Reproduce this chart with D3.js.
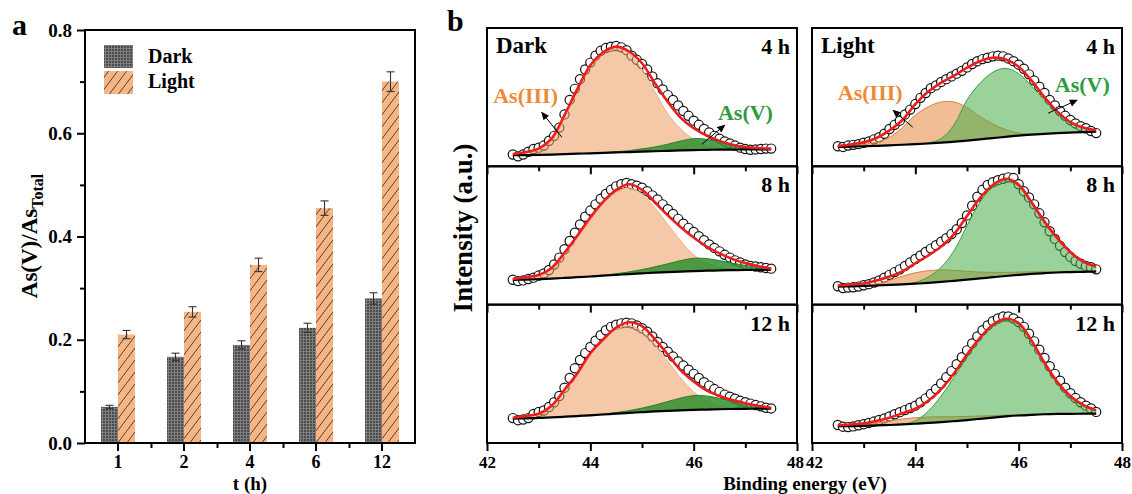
<!doctype html>
<html>
<head>
<meta charset="utf-8">
<script src="https://d3js.org/d3.v7.min.js"></script>
<style>
  body { margin: 0; background: #fff; }
  svg text { font-family: "Liberation Serif", "Times New Roman", serif; font-weight: bold; }
</style>
</head>
<body>
<svg width="1132" height="494"></svg>
<script>
// ---------- panel a : As(V)/As_total ratio ----------
var hours = ["1", "2", "4", "6", "12"];
var darkRatio = [0.070, 0.167, 0.190, 0.223, 0.280];
var darkErr = [0.003, 0.007, 0.008, 0.009, 0.011];
var lightRatio = [0.210, 0.254, 0.345, 0.455, 0.700];
var lightErr = [0.008, 0.010, 0.013, 0.014, 0.019];
var ratioTicks = [0, 0.2, 0.4, 0.6, 0.8];
var ratioMinor = [0.1, 0.3, 0.5, 0.7];

// ---------- panel b : As 3d XPS spectra ----------
var eTicks = [42, 44, 46, 48];
var eMinor = [43, 45, 47];
// grid for fitted components
var energyGrid = [42.5, 42.75, 43, 43.25, 43.5, 43.75, 44, 44.25, 44.5, 44.75, 45,
                  45.25, 45.5, 45.75, 46, 46.25, 46.5, 46.75, 47, 47.25, 47.5];
// measured points
var scanEnergy = [42.5, 42.6, 42.7, 42.8, 42.9, 43.0, 43.1, 43.2, 43.3, 43.4, 43.5,
                  43.6, 43.7, 43.8, 43.9, 44.0, 44.1, 44.2, 44.3, 44.4, 44.5,
                  44.6, 44.7, 44.8, 44.9, 45.0, 45.1, 45.2, 45.3, 45.4, 45.5,
                  45.6, 45.7, 45.8, 45.9, 46.0, 46.1, 46.2, 46.3, 46.4, 46.5,
                  46.6, 46.7, 46.8, 46.9, 47.0, 47.1, 47.2, 47.3, 47.4, 47.5];

// Dark 4 h
var darkBg4 = [8.0, 8.1, 8.3, 8.5, 8.8, 9.1, 9.4, 9.7, 10.0, 10.3, 10.6, 10.9, 11.2, 11.5, 11.7, 11.9, 12.0, 12.1, 12.2, 12.2, 12.3];
var darkIII4 = [8.6, 10.0, 12.4, 19, 35, 55, 72, 82, 85, 82, 70, 54, 38, 27, 19.5, 15, 13, 12.4, 12.3, 12.3, 12.3];
var darkV4 = [8.0, 8.1, 8.3, 8.5, 8.8, 9.1, 9.4, 9.8, 10.5, 11.3, 12.6, 14.0, 16.0, 18.3, 20.0, 19.5, 17.5, 15.0, 13.3, 12.6, 12.3];
var darkFit4 = [8.7, 10.3, 12.8, 20, 37, 56, 73, 82.5, 86.5, 83, 74.5, 60, 46.6, 35, 27.5, 22.3, 18.4, 15.6, 14.0, 13.2, 12.8];
var darkData4 = [8.5, 7.2, 8.5, 10.5, 12.5, 13.5, 15, 18.5, 22, 28, 37.5, 48, 56, 63, 70, 75, 80, 83.5, 85.5, 86.5, 87,
                 86, 84, 80, 77, 74, 70, 65, 60, 55.5, 51.5, 48, 44, 40, 36.5, 33, 30, 27, 24.5, 22, 20,
                 18, 16.5, 15, 13.5, 12.5, 12, 12.2, 12.5, 12.8, 12.8];
// Dark 8 h
var darkBg8 = [17.9, 18.1, 18.4, 18.8, 19.3, 19.8, 20.3, 20.9, 21.5, 22.1, 22.6, 23.1, 23.5, 23.9, 24.2, 24.5, 24.7, 24.9, 25.0, 25.1, 25.2];
var darkIII8 = [18.2, 19.3, 20.8, 25.5, 36, 48.5, 61.5, 73, 81.5, 84.5, 80, 70, 58, 46, 36, 30, 27, 25.8, 25.3, 25.2, 25.2];
var darkV8 = [17.9, 18.1, 18.4, 18.8, 19.3, 19.8, 20.5, 21.3, 22.3, 23.6, 25.3, 27.3, 29.5, 31.8, 33.5, 33.3, 31.8, 30, 28.3, 27, 26];
var darkFit8 = [18.6, 19.8, 21.4, 26.5, 37.5, 50, 63, 74.5, 83, 87, 83, 74, 64.5, 56, 48.5, 42, 37, 33, 30, 27.8, 26];
var darkData8 = [18, 17, 17.5, 18.5, 19.5, 21, 22.5, 25, 29, 34, 40, 46, 52, 58, 63.5, 68, 72.5, 76.5, 80, 83, 85.5,
                 87, 88, 87, 86, 84.5, 82, 79, 76, 72.5, 69, 65.5, 62, 58.5, 55.5, 52.5, 49.5, 46.5, 43.5, 41, 38.5,
                 36, 34, 32, 30.5, 29, 28, 27.5, 27, 26.5, 26];
// Dark 12 h
var darkBg12 = [17.6, 17.8, 18.1, 18.5, 19.0, 19.5, 20.0, 20.6, 21.2, 21.8, 22.3, 22.8, 23.2, 23.6, 23.9, 24.2, 24.4, 24.6, 24.7, 24.8, 24.9];
var darkIII12 = [18, 19, 20.6, 26, 37.5, 49.5, 64, 74, 82, 85, 81, 71.5, 59, 47, 37, 30.5, 27, 25.5, 25, 24.9, 24.9];
var darkV12 = [17.6, 17.8, 18.1, 18.5, 19.0, 19.5, 20.2, 21.0, 22.0, 23.4, 25.2, 27.4, 30, 32.5, 34.3, 34, 32.3, 30.3, 28.5, 26.8, 25.7];
var darkFit12 = [18.3, 19.5, 21.2, 27, 38.5, 50.5, 65, 75, 83.5, 87.3, 84.5, 75, 64, 52.5, 44.5, 38, 34, 31, 28.8, 27, 25.5];
var darkData12 = [18, 16.5, 17, 18, 21, 22.5, 23.5, 26, 29.5, 34, 40, 47, 54, 60, 65, 69.5, 74, 78, 81.5, 84, 85.5,
                  86.5, 87, 86.5, 85, 83, 80.5, 77, 73, 69.5, 66, 62.5, 59, 56, 53, 50, 47, 44, 41.5, 39, 37,
                  35, 33.5, 32, 30.5, 29.5, 28.5, 27.5, 26.5, 25.5, 25];
// Light 4 h
var lightBg4 = [14.0, 14.2, 14.5, 14.8, 15.2, 15.6, 16.0, 16.5, 17.1, 17.8, 18.6, 19.5, 20.4, 21.3, 22.2, 22.9, 23.5, 24.0, 24.4, 24.7, 25.0];
var lightIII4 = [14.2, 14.8, 15.8, 17.5, 21, 28, 37, 43, 46.5, 46.5, 42.5, 36, 30.5, 26.5, 24, 23.2, 23.6, 24.0, 24.4, 24.7, 25.0];
var lightV4 = [14.0, 14.2, 14.5, 14.8, 15.2, 15.6, 16.0, 17, 20, 30, 48, 60, 68, 70.8, 67, 58, 48, 38.5, 31.5, 27.5, 26];
var lightFit4 = [14.7, 15.8, 17.3, 20.5, 26, 33.5, 45, 54, 60.5, 65.5, 71.3, 76, 78.5, 77.3, 72, 62, 50, 39.5, 32, 28, 26];
var lightData4 = [14.5, 14, 15, 15.5, 16, 17, 18, 19.5, 21, 23.5, 27, 30, 33, 37.5, 41, 45, 49.5, 53, 56.5, 58.5, 61,
                  63, 65, 67, 69, 71.5, 74, 76, 77.5, 78.5, 79.5, 80, 79.5, 78, 76, 73.5, 70.5, 66.5, 62, 57.5, 53,
                  48, 44, 40, 36.5, 33.5, 31, 29, 27.5, 25.5, 24];
// Light 8 h
var lightBg8 = [13.0, 13.2, 13.5, 13.8, 14.2, 14.6, 15.1, 15.7, 16.4, 17.2, 18.0, 18.9, 19.8, 20.7, 21.5, 22.2, 22.8, 23.2, 23.5, 23.7, 23.9];
var lightIII8 = [13.0, 13.3, 13.8, 15, 17.5, 20.5, 23, 24.5, 25.1, 24.8, 24, 23.5, 23.3, 23.3, 23.5, 23.7, 23.8, 23.9, 24, 24.1, 24.2];
var lightV8 = [13.0, 13.2, 13.5, 13.8, 14.2, 14.6, 16, 20, 27, 39, 57, 74, 85, 89.5, 85.5, 73, 59, 47, 37.5, 30.5, 27];
var lightFit8 = [13.8, 14.5, 15.3, 17.5, 20.3, 24, 29.9, 35.5, 42, 51, 64, 77, 86.5, 91, 86.7, 74, 60, 48, 38, 31, 27.5];
var lightData8 = [13.3, 12, 12.3, 12.5, 13, 14, 14.8, 16, 17.5, 19.5, 21.5, 23.5, 25.5, 28, 30.5, 33, 35.5, 38, 40.5, 43, 45.5,
                  48, 51, 54.5, 59, 64.5, 71.5, 78, 83, 86.5, 88.5, 90, 91, 92, 91.5, 87, 82, 77.5, 72.5, 66, 59.5,
                  53, 47.5, 42.5, 38, 34.5, 31.5, 29.5, 28, 27, 25.5];
// Light 12 h
var lightBg12 = [12.1, 12.2, 12.4, 12.7, 13.0, 13.4, 13.9, 14.5, 15.1, 15.8, 16.6, 17.5, 18.4, 19.2, 19.9, 20.4, 20.8, 21.0, 21.1, 21.2, 21.2];
var lightIII12 = [12.1, 12.5, 13.3, 14.5, 16, 17.3, 18.3, 18.8, 19, 19, 19.2, 19.5, 19.8, 20.2, 20.5, 20.8, 21, 21.1, 21.2, 21.2, 21.2];
var lightV12 = [12.1, 12.2, 12.4, 12.7, 13.0, 13.5, 16, 23, 34, 47.5, 62, 75, 84.5, 88.5, 85.5, 73, 57, 43, 33, 26.5, 23];
var lightFit12 = [12.9, 13.4, 14.2, 16, 18.3, 21.5, 24.8, 30.5, 39, 50.5, 64, 76, 85.5, 89.8, 86.7, 74, 58, 44, 34, 27.5, 23.6];
var lightData12 = [13, 11.8, 11.5, 12, 12.8, 13.6, 14.5, 15.5, 16.6, 17.8, 19.2, 20.8, 22.3, 23.8, 25.3, 27, 29.5, 32.3, 35.5, 39, 43,
                   47.5, 52, 57, 62, 67, 72, 77, 81.5, 85, 88, 90, 91.5, 91.5, 90, 87.5, 84, 79, 73.5, 67.5, 61.5,
                   55.5, 50, 45, 40, 36, 32.5, 29.5, 27, 25, 22.5];

var svg = d3.select("svg");
var defs = svg.append("defs");

// fill patterns for the bars
var pg = defs.append("pattern").attr("id", "darkFill")
    .attr("width", 3).attr("height", 3).attr("patternUnits", "userSpaceOnUse");
pg.append("rect").attr("width", 3).attr("height", 3).attr("fill", "#4b4b4b");
pg.append("path").attr("d", "M0,0.5H3M0.5,0V3").attr("stroke", "#7e7e7e").attr("stroke-width", 1);

var ph = defs.append("pattern").attr("id", "lightFill")
    .attr("width", 9).attr("height", 12).attr("patternUnits", "userSpaceOnUse");
ph.append("rect").attr("width", 9).attr("height", 12).attr("fill", "#f5b584");
ph.append("path").attr("d", "M-1,13.33L10,-1.33").attr("stroke", "#2e2018").attr("stroke-width", 0.8);

defs.append("marker").attr("id", "arrow")
    .attr("viewBox", "0 0 10 10").attr("refX", 9).attr("refY", 5)
    .attr("markerWidth", 9).attr("markerHeight", 8).attr("markerUnits", "userSpaceOnUse")
    .attr("orient", "auto")
  .append("path").attr("d", "M0,0.5L10,5L0,9.5Z").attr("fill", "#000");

function styleAxis(g, size) {
    g.attr("font-size", size);
    g.selectAll("line").attr("stroke", "#000").attr("stroke-width", 2);
    g.selectAll(".domain").remove();
    g.selectAll("text").attr("fill", "#000");
}

// ================= panel a =================
var aLeft = 85, aRight = 415, aTop = 30, aBottom = 443;
var xA = d3.scaleBand().domain(hours).range([aLeft, aRight]);
var xSub = d3.scaleBand().domain(["Dark", "Light"]).range([0, xA.bandwidth()]).paddingOuter(0.94);
var yA = d3.scaleLinear().domain([0, 0.8]).range([aBottom, aTop]);

var ga = svg.append("g");

ga.append("g").attr("transform", "translate(" + aLeft + ",0)")
  .call(d3.axisLeft(yA).tickValues(ratioTicks).tickFormat(d3.format(".1f")).tickSize(8).tickPadding(5))
  .call(styleAxis, 19);
ga.append("g").attr("transform", "translate(" + aLeft + ",0)")
  .call(d3.axisLeft(yA).tickValues(ratioMinor).tickFormat("").tickSize(5))
  .call(styleAxis, 19);
ga.append("g").attr("transform", "translate(0," + aBottom + ")")
  .call(d3.axisBottom(xA).tickSize(8).tickPadding(4))
  .call(styleAxis, 18);
var xEdge = d3.scaleLinear().domain([0, hours.length]).range([aLeft, aRight]);
ga.append("g").attr("transform", "translate(0," + aBottom + ")")
  .call(d3.axisBottom(xEdge).tickValues([1, 2, 3, 4]).tickFormat("").tickSize(5))
  .call(styleAxis, 18);

var series = [
    {key: "Dark", vals: darkRatio, errs: darkErr, fill: "url(#darkFill)"},
    {key: "Light", vals: lightRatio, errs: lightErr, fill: "url(#lightFill)"}
];
series.forEach(function(s) {
    var rows = hours.map(function(h, i) { return {h: h, v: s.vals[i], e: s.errs[i]}; });
    ga.selectAll(".bar-" + s.key).data(rows).enter().append("rect")
      .attr("x", function(d) { return xA(d.h) + xSub(s.key); })
      .attr("y", function(d) { return yA(d.v); })
      .attr("width", xSub.bandwidth())
      .attr("height", function(d) { return aBottom - yA(d.v); })
      .attr("fill", s.fill);
    var eb = ga.selectAll(".err-" + s.key).data(rows).enter().append("g")
      .attr("stroke", "#333").attr("stroke-width", 1.1);
    var cx = function(d) { return xA(d.h) + xSub(s.key) + xSub.bandwidth() / 2; };
    eb.append("line").attr("x1", cx).attr("x2", cx)
      .attr("y1", function(d) { return yA(d.v - d.e); })
      .attr("y2", function(d) { return yA(d.v + d.e); });
    [1, -1].forEach(function(sg) {
        eb.append("line")
          .attr("x1", function(d) { return cx(d) - 4; }).attr("x2", function(d) { return cx(d) + 4; })
          .attr("y1", function(d) { return yA(d.v + sg * d.e); })
          .attr("y2", function(d) { return yA(d.v + sg * d.e); });
    });
});

ga.append("rect").attr("x", aLeft).attr("y", aTop)
  .attr("width", aRight - aLeft).attr("height", aBottom - aTop)
  .attr("fill", "none").attr("stroke", "#000").attr("stroke-width", 2);

// legend
ga.append("rect").attr("x", 104).attr("y", 45).attr("width", 29).attr("height", 23).attr("fill", "url(#darkFill)");
ga.append("rect").attr("x", 104).attr("y", 71).attr("width", 29).attr("height", 23).attr("fill", "url(#lightFill)");
ga.append("text").attr("x", 148).attr("y", 63).attr("font-size", 20).text("Dark");
ga.append("text").attr("x", 148).attr("y", 88).attr("font-size", 20).text("Light");

// titles
var yt = ga.append("text").attr("transform", "translate(37,236) rotate(-90)")
  .attr("text-anchor", "middle").attr("font-size", 23);
yt.append("tspan").text("As(V)/As");
yt.append("tspan").attr("dy", 6).attr("font-size", 16).text("Total");
ga.append("text").attr("x", (aLeft + aRight) / 2).attr("y", 490).attr("text-anchor", "middle")
  .attr("font-size", 19).text("t (h)");
svg.append("text").attr("x", 12).attr("y", 35).attr("font-size", 30).text("a");

// ================= panel b =================
var cols = [{x0: 487, x1: 797}, {x0: 812, x1: 1122}];
var rowTops = [28, 166.3, 304.7];
var rowH = 138.3;

var spectra = [
    {col: 0, row: 0, name: "Dark", time: "4 h", bg: darkBg4, as3: darkIII4, as5: darkV4, fit: darkFit4, data: darkData4},
    {col: 0, row: 1, name: "", time: "8 h", bg: darkBg8, as3: darkIII8, as5: darkV8, fit: darkFit8, data: darkData8},
    {col: 0, row: 2, name: "", time: "12 h", bg: darkBg12, as3: darkIII12, as5: darkV12, fit: darkFit12, data: darkData12},
    {col: 1, row: 0, name: "Light", time: "4 h", bg: lightBg4, as3: lightIII4, as5: lightV4, fit: lightFit4, data: lightData4},
    {col: 1, row: 1, name: "", time: "8 h", bg: lightBg8, as3: lightIII8, as5: lightV8, fit: lightFit8, data: lightData8},
    {col: 1, row: 2, name: "", time: "12 h", bg: lightBg12, as3: lightIII12, as5: lightV12, fit: lightFit12, data: lightData12}
];

var compStyle = [
    {iiiFill: "#ec9a60", iiiOp: 0.55, vFill: "#2f8f2f", vOp: 0.85, iiiLine: "#efb48a", vLine: "#2b7f2b"},
    {iiiFill: "#e6914f", iiiOp: 0.6, vFill: "#48ad48", vOp: 0.55, iiiLine: "#d9803f", vLine: "#3f9f3f"}
];

var gb = svg.append("g");

spectra.forEach(function(p) {
    var c = cols[p.col], st = compStyle[p.col];
    var top = rowTops[p.row], bottom = top + rowH;
    var x = d3.scaleLinear().domain([42, 48]).range([c.x0, c.x1]);
    var y = d3.scaleLinear().domain([0, 100]).range([bottom, top]);
    var g = gb.append("g");

    var pts = scanEnergy.map(function(e, i) { return {e: e, v: p.data[i]}; });
    var comp = energyGrid.map(function(e, i) {
        return {e: e, b: p.bg[i], iii: p.as3[i], v: p.as5[i], f: p.fit[i]};
    });

    // measured points
    g.selectAll("circle").data(pts).enter().append("circle")
      .attr("cx", function(d) { return x(d.e); })
      .attr("cy", function(d) { return y(d.v); })
      .attr("r", 4.6)
      .attr("fill", "#fff").attr("stroke", "#111").attr("stroke-width", 1.2);

    var area = function(key) {
        return d3.area().curve(d3.curveCatmullRom)
          .x(function(d) { return x(d.e); })
          .y0(function(d) { return y(d.b); })
          .y1(function(d) { return y(d[key]); });
    };
    var line = function(key) {
        return d3.line().curve(d3.curveCatmullRom)
          .x(function(d) { return x(d.e); })
          .y(function(d) { return y(d[key]); });
    };

    g.append("path").attr("d", area("iii")(comp)).attr("fill", st.iiiFill).attr("fill-opacity", st.iiiOp);
    g.append("path").attr("d", line("iii")(comp)).attr("fill", "none").attr("stroke", st.iiiLine).attr("stroke-width", 1);
    g.append("path").attr("d", area("v")(comp)).attr("fill", st.vFill).attr("fill-opacity", st.vOp);
    g.append("path").attr("d", line("v")(comp)).attr("fill", "none").attr("stroke", st.vLine).attr("stroke-width", 1);
    g.append("path").attr("d", line("b")(comp)).attr("fill", "none").attr("stroke", "#000").attr("stroke-width", 2.2);
    g.append("path").attr("d", line("f")(comp)).attr("fill", "none").attr("stroke", "#ee1c1c").attr("stroke-width", 2.6);

    // frame and ticks
    g.append("rect").attr("x", c.x0).attr("y", top).attr("width", c.x1 - c.x0).attr("height", rowH)
      .attr("fill", "none").attr("stroke", "#000").attr("stroke-width", 2);
    var ax = g.append("g").attr("transform", "translate(0," + bottom + ")")
      .call(d3.axisBottom(x).tickValues(eTicks).tickSize(8).tickPadding(5)
            .tickFormat(p.row === 2 ? d3.format("d") : ""))
      .call(styleAxis, 17);
    // the two columns meet at 48 | 42: nudge those labels apart a little
    ax.selectAll("text").attr("dx", function(d) {
        if (p.col === 0 && d === 48) return -2;
        if (p.col === 1 && d === 42) return 2;
        return 0;
    });
    g.append("g").attr("transform", "translate(0," + bottom + ")")
      .call(d3.axisBottom(x).tickValues(eMinor).tickSize(5).tickFormat(""))
      .call(styleAxis, 17);

    if (p.name) {
        g.append("text").attr("x", c.x0 + 9).attr("y", top + 25).attr("font-size", 23).text(p.name);
    }
    g.append("text").attr("x", c.x1 - 7).attr("y", top + 26).attr("text-anchor", "end")
      .attr("font-size", 22).text(p.time);

    if (p.row === 0) {
        var marks = p.col === 0
            ? {iii: [42.12, 45.7], iiiA: [43.45, 21, 43.06, 39], v: [46.47, 33.3], vA: [46.16, 16, 46.6, 29.7]}
            : {iii: [42.5, 47.8], iiiA: [43.95, 28.3, 43.57, 40.6], v: [46.7, 53.6], vA: [46.57, 38.4, 47.13, 47.8]};
        g.append("text").attr("x", x(marks.iii[0])).attr("y", y(marks.iii[1]))
          .attr("font-size", 22).attr("fill", "#ef8a34").text("As(III)");
        g.append("text").attr("x", x(marks.v[0])).attr("y", y(marks.v[1]))
          .attr("font-size", 22).attr("fill", "#2e9a3e").text("As(V)");
        [marks.iiiA, marks.vA].forEach(function(a) {
            g.append("line")
              .attr("x1", x(a[0])).attr("y1", y(a[1]))
              .attr("x2", x(a[2])).attr("y2", y(a[3]))
              .attr("stroke", "#000").attr("stroke-width", 1)
              .attr("marker-end", "url(#arrow)");
        });
    }
});

gb.append("text").attr("transform", "translate(472,228) rotate(-90)")
  .attr("text-anchor", "middle").attr("font-size", 27).text("Intensity (a.u.)");
gb.append("text").attr("x", 805).attr("y", 490).attr("text-anchor", "middle")
  .attr("font-size", 19).text("Binding energy (eV)");
svg.append("text").attr("x", 447).attr("y", 31).attr("font-size", 30).text("b");
</script>
</body>
</html>
